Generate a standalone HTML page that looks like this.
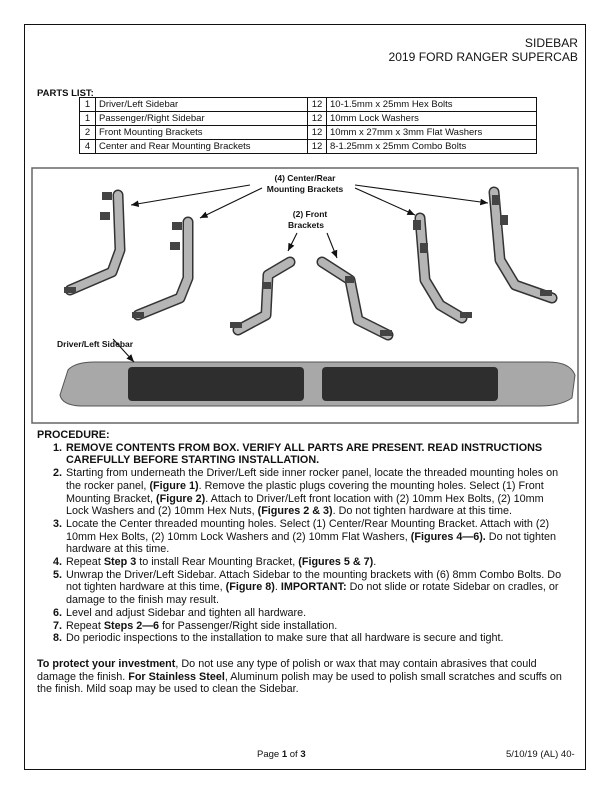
<!DOCTYPE html>
<html><head><meta charset="utf-8">
<style>
body{margin:0;width:612px;height:792px;background:#fff;position:relative;font-family:"Liberation Sans",Arial,sans-serif;color:#111;overflow:hidden}
.abs{position:absolute}
.border{left:24px;top:24px;width:562px;height:746px;border:1.5px solid #111;box-sizing:border-box}
.hdr{right:34px;top:36px;text-align:right;font-size:12.1px;line-height:14px}
table{border-collapse:collapse;font-size:9.5px}
td{border:1px solid #111;padding:0 3px;height:13px;line-height:12px;white-space:nowrap}
.proc{left:37px;top:429px;width:531px;font-size:10.8px;line-height:12.7px}
ol{margin:0;padding-left:28px}
li{padding-left:1px}
li::marker{font-weight:bold}
</style></head><body>
<div class="abs border"></div>
<div class="abs hdr">SIDEBAR<br>2019 FORD RANGER SUPERCAB</div>
<div class="abs" style="left:37px;top:88px;font-size:9.5px;font-weight:bold">PARTS LIST:</div>
<table class="abs" style="left:79px;top:97px;width:458px">
<tr><td style="width:9px;text-align:center">1</td><td style="width:205px">Driver/Left Sidebar</td><td style="width:12px;text-align:center">12</td><td>10-1.5mm x 25mm Hex Bolts</td></tr>
<tr><td style="text-align:center">1</td><td>Passenger/Right Sidebar</td><td style="text-align:center">12</td><td>10mm Lock Washers</td></tr>
<tr><td style="text-align:center">2</td><td>Front Mounting Brackets</td><td style="text-align:center">12</td><td>10mm x 27mm x 3mm Flat Washers</td></tr>
<tr><td style="text-align:center">4</td><td>Center and Rear Mounting Brackets</td><td style="text-align:center">12</td><td>8-1.25mm x 25mm Combo Bolts</td></tr>
</table>
<svg class="abs" style="left:0;top:0" width="612" height="792">
<defs><marker id="a" markerWidth="8" markerHeight="8" refX="7" refY="4" orient="auto"><path d="M0,1 L7,4 L0,7z" fill="#111"/></marker></defs>
<rect x="32" y="168" width="546" height="255" fill="none" stroke="#666" stroke-width="1.5"/>
<g fill="none" stroke-linejoin="round" stroke-linecap="round">
<g stroke="#333" stroke-width="11">
<path d="M118,195 L120,250 L112,272 L70,290"/><path d="M188,222 L188,278 L180,298 L138,315"/>
<path d="M290,262 L268,275 L266,315 L238,330"/><path d="M322,262 L350,280 L358,320 L388,335"/>
<path d="M420,218 L425,280 L440,305 L462,318"/><path d="M494,192 L500,260 L515,285 L552,298"/>
</g>
<g stroke="#b5b5b5" stroke-width="8">
<path d="M118,195 L120,250 L112,272 L70,290"/><path d="M188,222 L188,278 L180,298 L138,315"/>
<path d="M290,262 L268,275 L266,315 L238,330"/><path d="M322,262 L350,280 L358,320 L388,335"/>
<path d="M420,218 L425,280 L440,305 L462,318"/><path d="M494,192 L500,260 L515,285 L552,298"/>
</g></g>
<g fill="#444"><rect x="102" y="192" width="10" height="8"/><rect x="100" y="212" width="10" height="8"/><rect x="172" y="222" width="10" height="8"/><rect x="170" y="242" width="10" height="8"/>
<rect x="230" y="322" width="12" height="6"/><rect x="64" y="287" width="12" height="6"/><rect x="132" y="312" width="12" height="6"/>
<rect x="413" y="220" width="8" height="10"/><rect x="420" y="243" width="8" height="10"/><rect x="492" y="195" width="8" height="10"/><rect x="500" y="215" width="8" height="10"/>
<rect x="460" y="312" width="12" height="6"/><rect x="540" y="290" width="12" height="6"/><rect x="380" y="330" width="12" height="6"/><rect x="262" y="282" width="9" height="7"/><rect x="345" y="276" width="9" height="7"/></g>
<path d="M68,370 Q75,362 95,362 L548,362 Q570,362 575,375 L572,398 Q560,406 540,406 L80,406 Q62,405 60,395 Z" fill="#a8a8a8" stroke="#555"/>
<rect x="128" y="367" width="176" height="34" rx="4" fill="#2e2e2e"/>
<rect x="322" y="367" width="176" height="34" rx="4" fill="#2e2e2e"/>
<g stroke="#111" stroke-width="1.1">
<line x1="250" y1="185" x2="131" y2="205" marker-end="url(#a)"/>
<line x1="262" y1="188" x2="200" y2="218" marker-end="url(#a)"/>
<line x1="355" y1="188" x2="415" y2="215" marker-end="url(#a)"/>
<line x1="355" y1="185" x2="488" y2="203" marker-end="url(#a)"/>
<line x1="297" y1="233" x2="288" y2="251" marker-end="url(#a)"/>
<line x1="327" y1="233" x2="337" y2="258" marker-end="url(#a)"/>
<line x1="113" y1="339" x2="134" y2="362" marker-end="url(#a)"/>
</g>
<g font-family="Liberation Sans,Arial,sans-serif" font-size="8.5" font-weight="bold" fill="#111" text-anchor="middle">
<text x="305" y="181">(4) Center/Rear</text><text x="305" y="192">Mounting Brackets</text>
<text x="310" y="217">(2)  Front</text><text x="306" y="228">Brackets</text>
<text x="57" y="347" text-anchor="start">Driver/Left Sidebar</text>
</g>
</svg>
<div class="abs proc">
<div style="font-weight:bold">PROCEDURE:</div>
<ol>
<li><b>REMOVE CONTENTS FROM BOX. VERIFY ALL PARTS ARE PRESENT. READ INSTRUCTIONS CAREFULLY BEFORE STARTING INSTALLATION.</b></li>
<li>Starting from underneath the Driver/Left side inner rocker panel, locate the threaded mounting holes on the rocker panel, <b>(Figure 1)</b>. Remove the plastic plugs covering the mounting holes. Select (1) Front Mounting Bracket, <b>(Figure 2)</b>. Attach to Driver/Left front location with (2) 10mm Hex Bolts, (2) 10mm Lock Washers and (2) 10mm Hex Nuts, <b>(Figures 2 &amp; 3)</b>. Do not tighten hardware at this time.</li>
<li>Locate the Center threaded mounting holes. Select (1) Center/Rear Mounting Bracket. Attach with (2) 10mm Hex Bolts, (2) 10mm Lock Washers and (2) 10mm Flat Washers, <b>(Figures 4—6).</b> Do not tighten hardware at this time.</li>
<li>Repeat <b>Step 3</b> to install Rear Mounting Bracket, <b>(Figures 5 &amp; 7)</b>.</li>
<li>Unwrap the Driver/Left Sidebar. Attach Sidebar to the mounting brackets with (6) 8mm Combo Bolts. Do not tighten hardware at this time, <b>(Figure 8)</b>. <b>IMPORTANT:</b> Do not slide or rotate Sidebar on cradles, or damage to the finish may result.</li>
<li>Level and adjust Sidebar and tighten all hardware.</li>
<li>Repeat <b>Steps 2—6</b> for Passenger/Right side installation.</li>
<li>Do periodic inspections to the installation to make sure that all hardware is secure and tight.</li>
</ol>
<div style="margin-top:13px;width:527px"><b>To protect your investment</b>, Do not use any type of polish or wax that may contain abrasives that could damage the finish. <b>For Stainless Steel</b>, Aluminum polish may be used to polish small scratches and scuffs on the finish. Mild soap may be used to clean the Sidebar.</div>
</div>
<div class="abs" style="left:257px;top:749px;font-size:9.5px">Page <b>1</b> of <b>3</b></div>
<div class="abs" style="left:506px;top:749px;font-size:9.5px">5/10/19 (AL) 40-</div>
</body></html>
